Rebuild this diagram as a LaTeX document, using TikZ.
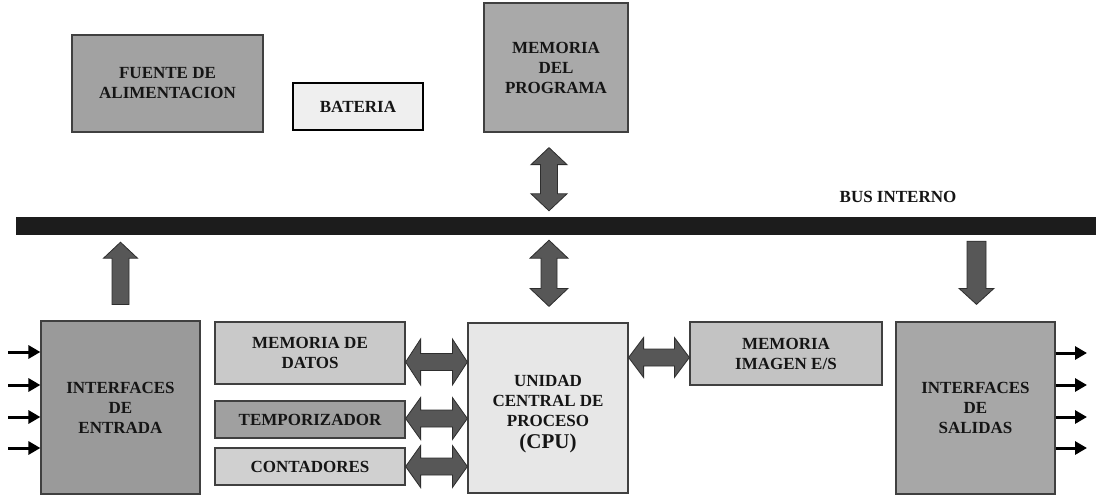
\documentclass[tikz,border=0pt]{standalone}
\usepackage{fontspec}
\setmainfont{Liberation Serif}
\usetikzlibrary{calc,arrows.meta}
\definecolor{cfuente}{HTML}{A2A2A2}
\definecolor{cbat}{HTML}{EFEFEF}
\definecolor{cmemprog}{HTML}{A9A9A9}
\definecolor{cbus}{HTML}{1C1C1C}
\definecolor{cinent}{HTML}{9A9A9A}
\definecolor{cmemdat}{HTML}{C9C9C9}
\definecolor{ctemp}{HTML}{A0A0A0}
\definecolor{ccont}{HTML}{D0D0D0}
\definecolor{ccpu}{HTML}{E7E7E7}
\definecolor{cmemimg}{HTML}{C3C3C3}
\definecolor{cinsal}{HTML}{A7A7A7}
\definecolor{cborder}{HTML}{404040}
\definecolor{carrow}{HTML}{575757}
\definecolor{carrowline}{HTML}{2E2E2E}
\definecolor{ctext}{HTML}{151515}
% block arrows: #1 shaft half width, #2 head half width, #3 head length, #4/#5 end points
\newcommand\blkvd[5]{%
  \filldraw[blockarrow] let \p1=(#4), \p2=(#5) in
   (\x1,\y1) -- (\x1+#2,\y1-#3) -- (\x1+#1,\y1-#3) -- (\x1+#1,\y2+#3) -- (\x1+#2,\y2+#3)
   -- (\x1,\y2) -- (\x1-#2,\y2+#3) -- (\x1-#1,\y2+#3) -- (\x1-#1,\y1-#3) -- (\x1-#2,\y1-#3) -- cycle;}
\newcommand\blkhd[5]{%
  \filldraw[blockarrow] let \p1=(#4), \p2=(#5) in
   (\x1,\y1) -- (\x1+#3,\y1+#2) -- (\x1+#3,\y1+#1) -- (\x2-#3,\y1+#1) -- (\x2-#3,\y1+#2)
   -- (\x2,\y1) -- (\x2-#3,\y1-#2) -- (\x2-#3,\y1-#1) -- (\x1+#3,\y1-#1) -- (\x1+#3,\y1-#2) -- cycle;}
\newcommand\blkup[5]{%
  \filldraw[blockarrow] let \p1=(#4), \p2=(#5) in
   (\x1,\y1) -- (\x1+#2,\y1-#3) -- (\x1+#1,\y1-#3) -- (\x1+#1,\y2) -- (\x1-#1,\y2)
   -- (\x1-#1,\y1-#3) -- (\x1-#2,\y1-#3) -- cycle;}
\newcommand\blkdown[5]{%
  \filldraw[blockarrow] let \p1=(#4), \p2=(#5) in
   (\x1-#1,\y1) -- (\x1+#1,\y1) -- (\x1+#1,\y2+#3) -- (\x1+#2,\y2+#3) -- (\x1,\y2)
   -- (\x1-#2,\y2+#3) -- (\x1-#1,\y2+#3) -- cycle;}
\begin{document}
\begin{tikzpicture}[x=1pt,y=-1pt,
  box/.style={draw=cborder,line width=1.2pt,inner sep=2pt,align=center,
    text=ctext,font=\fontsize{17}{20}\selectfont\bfseries},
  blockarrow/.style={fill=carrow,draw=carrowline,line width=0.8pt,line join=miter},
  sig/.style={line width=3pt,draw=black,-{Triangle[length=12pt,width=13pt]}}]
\useasboundingbox[fill=white] (0,0) rectangle (1096,496);

% top blocks
\node[box,fill=cfuente,minimum width=191pt,minimum height=97pt] (fuente) at (167.5,83.5) {FUENTE DE\\ALIMENTACION};
\node[box,fill=cbat,draw=black,line width=2.6pt,minimum width=130pt,minimum height=47pt] (bat) at (358,106.5) {BATERIA};
\node[box,fill=cmemprog,minimum width=144pt,minimum height=129pt] (memprog) at (556,67.5) {MEMORIA\\DEL\\PROGRAMA};

% bus
\node[fill=cbus,draw=none,minimum width=1080pt,minimum height=18pt,inner sep=0pt] (bus) at (556,226) {};
\node[text=ctext,font=\fontsize{17}{20}\selectfont\bfseries] (buslabel) at (898,197) {BUS INTERNO};

% lower blocks
\node[box,fill=cinent,minimum width=159pt,minimum height=173pt] (inent) at (120.5,407.5) {INTERFACES\\DE\\ENTRADA};
\node[box,fill=cmemdat,minimum width=190pt,minimum height=62pt] (memdat) at (310,353) {MEMORIA DE\\DATOS};
\node[box,fill=ctemp,minimum width=190pt,minimum height=37pt] (temp) at (310,419.5) {TEMPORIZADOR};
\node[box,fill=ccont,minimum width=190pt,minimum height=37pt] (cont) at (310,466.5) {CONTADORES};
\node[box,fill=ccpu,minimum width=160pt,minimum height=170pt] (cpu) at (548,408) {\rule{0pt}{24pt}UNIDAD\\CENTRAL DE\\PROCESO\\[2pt]{\fontsize{21}{23}\selectfont (CPU)}};
\node[box,fill=cmemimg,minimum width=192pt,minimum height=63pt] (memimg) at (786,353.5) {MEMORIA\\IMAGEN E/S};
\node[box,fill=cinsal,minimum width=159pt,minimum height=172pt] (insal) at (975.5,408) {INTERFACES\\DE\\SALIDAS};

% vertical block arrows
\coordinate (mpA) at ($(memprog.south)+(-7,15)$);
\coordinate (mpB) at ($(memprog.south |- bus.north)+(-7,-6)$);
\blkvd{8.5pt}{18pt}{17pt}{mpA}{mpB}
\coordinate (cpA) at ($(cpu.north |- bus.south)+(1,5)$);
\coordinate (cpB) at ($(cpu.north)+(1,-16)$);
\blkvd{8pt}{19pt}{18pt}{cpA}{cpB}
\coordinate (ieA) at ($(inent.north |- bus.south)+(0,7)$);
\coordinate (ieB) at ($(inent.north)+(0,-16)$);
\blkup{8.5pt}{17pt}{16pt}{ieA}{ieB}
\coordinate (isA) at ($(insal.north |- bus.south)+(1,6)$);
\coordinate (isB) at ($(insal.north)+(1,-17)$);
\blkdown{9.5pt}{17.5pt}{16pt}{isA}{isB}

% horizontal block arrows
\coordinate (mdA) at ($(memdat.east)+(0,9)$);
\coordinate (mdB) at (mdA -| cpu.west);
\blkhd{8.5pt}{23pt}{15pt}{mdA}{mdB}
\coordinate (tmA) at ($(temp.east)+(0,-1)$);
\coordinate (tmB) at (tmA -| cpu.west);
\blkhd{8.5pt}{21pt}{15pt}{tmA}{tmB}
\coordinate (ctA) at (cont.east);
\coordinate (ctB) at (ctA -| cpu.west);
\blkhd{8.5pt}{21pt}{15pt}{ctA}{ctB}
\coordinate (miB) at ($(memimg.west)+(0,4)$);
\coordinate (miA) at (miB -| cpu.east);
\blkhd{8.5pt}{20pt}{15pt}{miA}{miB}

% input signals
\foreach \i/\yy in {1/352,2/385,3/417,4/448}{
  \coordinate (in\i) at (8,\yy);
  \draw[sig] (in\i) -- (in\i -| inent.west);
}
% output signals
\foreach \i/\yy in {1/353,2/385,3/417,4/448}{
  \coordinate (out\i) at (1087,\yy);
  \draw[sig] (out\i -| insal.east) -- (out\i);
}
\end{tikzpicture}
\end{document}
